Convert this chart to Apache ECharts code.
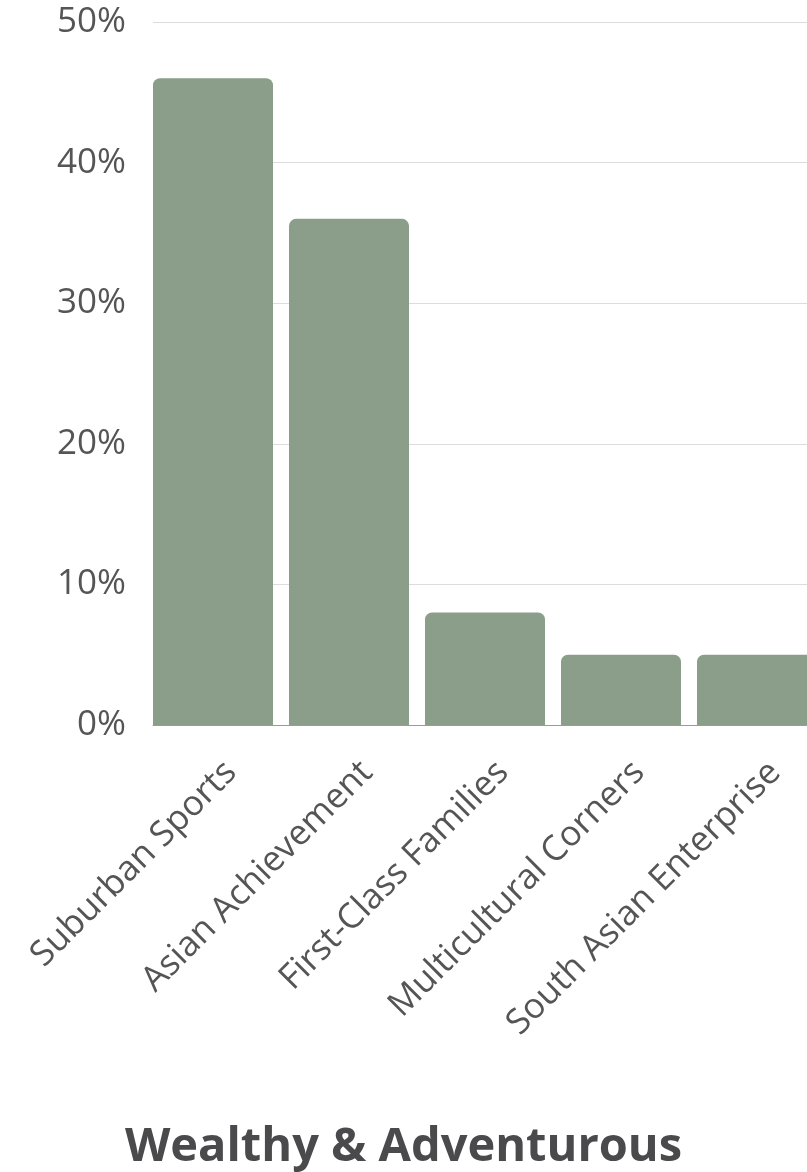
<!DOCTYPE html>
<html>
<head>
<meta charset="utf-8">
<script src="https://cdn.jsdelivr.net/npm/echarts@6/dist/echarts.min.js"></script>
<style>
  html, body { margin: 0; padding: 0; background: #fff; }
  #chart { width: 807px; height: 1172px; }
</style>
</head>
<body>
<div id="chart"></div>
<script>
// 数据
var categories = ['Suburban Sports', 'Asian Achievement', 'First-Class Families', 'Multicultural Corners', 'South Asian Enterprise'];
var values = [46, 36, 8, 5, 5];
var chartTitle = 'Wealthy & Adventurous';

var myChart = echarts.init(document.getElementById('chart'));
var fontName = '"Open Sans", sans-serif';

var option = {
	backgroundColor: '#fff',
	animation: false,
	title: {
		text: chartTitle,
		left: 'center',
		top: 1119,
		textStyle: {
			fontFamily: fontName,
			fontSize: 47,
			fontWeight: 'bold',
			color: '#4a4a4c'
		}
	},
	grid: [
		// 坐标轴和网格线
		{ left: 153, right: 0, top: 22, bottom: 447, outerBoundsMode: 'none' },
		// 柱子 (右侧超出画布)
		{ left: 145, width: 680, top: 22, bottom: 447, outerBoundsMode: 'none' }
	],
	xAxis: [
		{
			type: 'category',
			gridIndex: 0,
			data: categories,
			axisLine: { show: true, lineStyle: { color: '#9a9a9a', width: 1 } },
			axisTick: { show: false },
			axisLabel: { show: false }
		},
		{
			type: 'category',
			gridIndex: 1,
			data: categories,
			axisLine: { show: false },
			axisTick: { show: false },
			axisLabel: {
				rotate: 45,
				margin: 24,
				interval: 0,
				verticalAlign: 'top',
				padding: [8, 0, 0, 0],
				fontFamily: fontName,
				fontSize: 35,
				color: '#555'
			}
		}
	],
	yAxis: [
		{
			type: 'value',
			gridIndex: 0,
			min: 0,
			max: 50,
			interval: 10,
			axisLine: { show: false },
			axisTick: { show: false },
			axisLabel: {
				formatter: '{value}%',
				margin: 27,
				fontFamily: fontName,
				fontSize: 35,
				color: '#555'
			},
			splitLine: { lineStyle: { color: '#dcdcdc', width: 1 } }
		},
		{
			type: 'value',
			gridIndex: 1,
			min: 0,
			max: 50,
			show: false,
			splitLine: { show: false }
		}
	],
	series: [{
		type: 'bar',
		xAxisIndex: 1,
		yAxisIndex: 1,
		data: values,
		barWidth: 120,
		itemStyle: {
			color: '#8a9e89',
			borderRadius: [7, 7, 0, 0]
		}
	}]
};
myChart.setOption(option);
</script>
</body>
</html>
